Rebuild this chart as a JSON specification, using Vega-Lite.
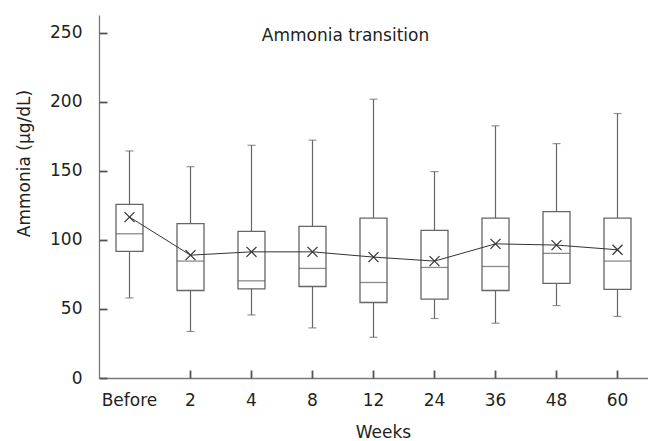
{
  "$schema": "https://vega.github.io/schema/vega-lite/v6.json",
  "autosize": {"type": "none"},
  "width": 549,
  "height": 363,
  "padding": {"left": 99, "top": 15, "right": 0, "bottom": 63},
  "background": "white",
  "config": {
    "view": {"stroke": null},
    "font": "DejaVu Sans",
    "axis": {"labelFont": "DejaVu Sans", "titleFont": "DejaVu Sans", "labelColor": "#231f20", "titleColor": "#231f20", "labelFontSize": 17, "titleFontSize": 17, "titleFontWeight": "normal", "domainColor": "#7a7a7a", "domainWidth": 1.3, "grid": false}
  },
  "resolve": {"axis": {"x": "independent", "y": "independent"}},
  "title": {"text": "Ammonia transition", "font": "DejaVu Sans", "fontSize": 17, "fontWeight": "normal", "color": "#231f20", "anchor": "middle", "offset": -30, "dx": -28},
  "data": {"values": [
    {"week": "Before", "lo": 58, "q1": 91.7, "med": 104.5, "q3": 125.8, "hi": 164.5, "mean": 116.6},
    {"week": "2", "lo": 33.7, "q1": 63.4, "med": 84.7, "q3": 111.8, "hi": 153.1, "mean": 89},
    {"week": "4", "lo": 45.7, "q1": 64.6, "med": 70.4, "q3": 106.2, "hi": 168.6, "mean": 91.4},
    {"week": "8", "lo": 36.3, "q1": 66.3, "med": 79.4, "q3": 109.9, "hi": 172.3, "mean": 91.4},
    {"week": "12", "lo": 29.5, "q1": 54.7, "med": 69.2, "q3": 115.9, "hi": 202, "mean": 87.6},
    {"week": "24", "lo": 43.1, "q1": 57.1, "med": 80.1, "q3": 107, "hi": 149.5, "mean": 84.7},
    {"week": "36", "lo": 39.7, "q1": 63.4, "med": 80.8, "q3": 115.9, "hi": 182.7, "mean": 97.2},
    {"week": "48", "lo": 52.5, "q1": 68.5, "med": 90.3, "q3": 120.5, "hi": 169.8, "mean": 96.3},
    {"week": "60", "lo": 44.6, "q1": 64.2, "med": 84.7, "q3": 115.9, "hi": 191.6, "mean": 92.9}
  ]},
  "encoding": {
    "x": {"field": "week", "type": "nominal", "sort": null, "scale": {"type": "band"}, "axis": null}
  },
  "layer": [
    {"mark": {"type": "rule", "color": "#666666", "strokeWidth": 1.2},
     "encoding": {
       "x": {"field": "week", "type": "nominal", "sort": null,
         "axis": {"title": "Weeks", "labelAngle": 0, "ticks": false, "tickSize": 0, "labelPadding": 14, "titlePadding": 16, "titleX": 284}},
       "y": {"field": "lo", "type": "quantitative", "scale": {"domain": [0, 263], "nice": false},
         "axis": {"title": "Ammonia (μg/dL)", "values": [0, 50, 100, 150, 200, 250], "ticks": false, "tickSize": 0, "labelPadding": 17, "titleX": -66, "titleY": 148}},
       "y2": {"field": "hi"}}},
    {"mark": {"type": "bar", "width": 27, "fill": "white", "stroke": "#666666", "strokeWidth": 1.3},
     "encoding": {
       "x": {"field": "week", "type": "nominal", "sort": null,
         "axis": {"orient": "top", "offset": -363, "title": null, "labels": false, "domain": false, "ticks": true, "tickSize": 8, "tickWidth": 1.8,
           "tickColor": {"condition": {"test": "datum.value === 'Before'", "value": "transparent"}, "value": "#555555"}}},
       "y": {"field": "q1", "type": "quantitative",
         "axis": {"orient": "right", "offset": -549, "title": null, "labels": false, "domain": false, "ticks": true, "tickSize": 8, "tickWidth": 1.8, "tickColor": "#555555", "values": [0, 50, 100, 150, 200, 250]}},
       "y2": {"field": "q3"}}},
    {"mark": {"type": "tick", "size": 27, "thickness": 1.3, "color": "#5a5a5a"},
     "encoding": {"y": {"field": "med", "type": "quantitative", "axis": null}}},
    {"mark": {"type": "tick", "size": 8, "thickness": 1.2, "color": "#666666"},
     "encoding": {"y": {"field": "hi", "type": "quantitative", "axis": null}}},
    {"mark": {"type": "tick", "size": 8, "thickness": 1.2, "color": "#666666"},
     "encoding": {"y": {"field": "lo", "type": "quantitative", "axis": null}}},
    {"mark": {"type": "line", "color": "#333333", "strokeWidth": 1},
     "encoding": {"y": {"field": "mean", "type": "quantitative", "axis": null}}},
    {"mark": {"type": "point", "shape": "M-1,-1L1,1M-1,1L1,-1", "size": 100, "filled": false, "stroke": "#333333", "strokeWidth": 1.2, "opacity": 1},
     "encoding": {"y": {"field": "mean", "type": "quantitative", "axis": null}}}
  ]
}
